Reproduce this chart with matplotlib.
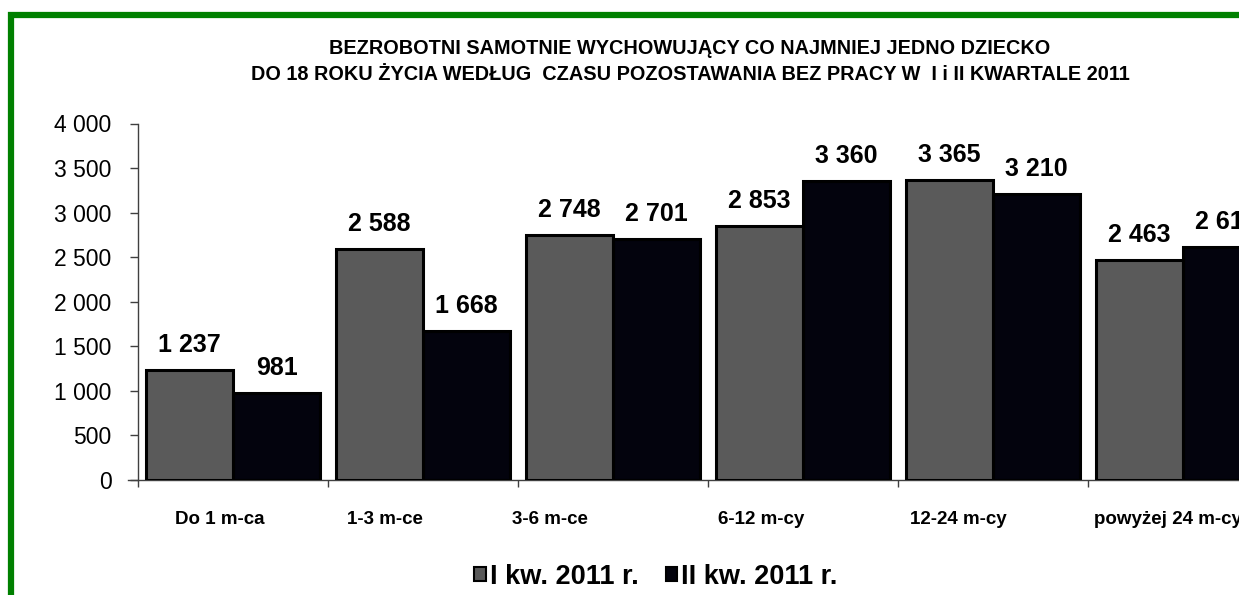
import matplotlib
matplotlib.use("Agg")
import matplotlib.pyplot as plt
from matplotlib.patches import Rectangle, Patch
import matplotlib.transforms as mtransforms
import numpy as np

categories = ["Do 1 m-ca", "1-3 m-ce", "3-6 m-ce", "6-12 m-cy", "12-24 m-cy", "powyżej 24 m-cy"]
q1_values = [1237, 2588, 2748, 2853, 3365, 2463]
q2_values = [981, 1668, 2701, 3360, 3210, 2613]
series_names = ["I kw. 2011 r.", "II kw. 2011 r."]
title_lines = ["BEZROBOTNI SAMOTNIE WYCHOWUJĄCY CO NAJMNIEJ JEDNO DZIECKO",
               "DO 18 ROKU ŻYCIA WEDŁUG  CZASU POZOSTAWANIA BEZ PRACY W  I i II KWARTALE 2011"]
yticks = [0, 500, 1000, 1500, 2000, 2500, 3000, 3500, 4000]

plt.rcParams['font.family'] = ['Liberation Sans', 'DejaVu Sans']

W, H = 1239, 595
fig = plt.figure(figsize=(W / 100, H / 100), dpi=100)

def fmt(v):
    return f"{v:,}".replace(",", " ")

# green border (cropped on right/bottom)
fig.patches.append(Rectangle((11 / W, -0.1), 2, (H - 15) / H + 0.1, transform=fig.transFigure,
                             fill=False, edgecolor="#008000", linewidth=4.5, zorder=0))

left, right_px = 138, 1278
bottom_px, top_px = 480, 123.5
ax = fig.add_axes([left / W, (H - bottom_px) / H, (right_px - left) / W, (bottom_px - top_px) / H])

x = np.arange(len(categories))
bw = 0.46
c1, c2 = "#5a5a5a", "#03030d"
ax.bar(x - bw / 2, q1_values, bw, color=c1, edgecolor="black", linewidth=2.2, zorder=3)
ax.bar(x + bw / 2, q2_values, bw, color=c2, edgecolor="black", linewidth=2.2, zorder=3)

for xi, v in zip(x, q1_values):
    ax.annotate(fmt(v), (xi - bw / 2, v), xytext=(0, 25), textcoords="offset pixels",
                ha="center", va="center", fontsize=18, fontweight="bold", clip_on=False)
for xi, v in zip(x, q2_values):
    ax.annotate(fmt(v), (xi + bw / 2, v), xytext=(0, 25), textcoords="offset pixels",
                ha="center", va="center", fontsize=18, fontweight="bold", clip_on=False)

ax.set_xlim(-0.5, len(categories) - 0.5)
ax.set_ylim(0, 4000)
ax.set_yticks(yticks)
ax.set_yticklabels([fmt(v) for v in yticks], fontsize=16.5)
ax.set_xticks(np.arange(len(categories) + 1) - 0.5, minor=False)
ax.set_xticklabels([])
ax.set_xticks(x, minor=True)
ax.set_xticklabels(categories, minor=True, fontsize=13.5, fontweight="bold")
ax.tick_params(axis="x", which="minor", length=0, pad=22)
ax.tick_params(axis="x", which="major", length=5, width=1, color="#404040", direction="out")
ax.tick_params(axis="y", length=6, width=1, color="#404040", direction="out", pad=13)

# small horizontal shifts of category labels (pixels) as in the reference
label_dx = [-13, -38, -63, -42, -35, -15]
for lbl, dx in zip(ax.get_xticklabels(minor=True), label_dx):
    lbl.set_transform(lbl.get_transform() + mtransforms.ScaledTranslation(dx / 100, 0, fig.dpi_scale_trans))

for s in ["top", "right"]:
    ax.spines[s].set_visible(False)
for s in ["left", "bottom"]:
    ax.spines[s].set_color("#404040")
    ax.spines[s].set_linewidth(1)
ax.spines["bottom"].set_bounds(-0.55, len(categories) - 0.5)

fig.text(690 / W, 1 - 49 / H, title_lines[0], ha="center", va="center", fontsize=14.3, fontweight="bold")
fig.text(690 / W, 1 - 75 / H, title_lines[1], ha="center", va="center", fontsize=14.3, fontweight="bold")

handles = [Patch(facecolor=c1, edgecolor="black", linewidth=1.5),
           Patch(facecolor=c2, edgecolor="black", linewidth=1.5)]
fig.legend(handles, series_names, loc="center", bbox_to_anchor=(656 / W, 1 - 577 / H), ncol=2,
           frameon=False, prop={"size": 19.5, "weight": "bold"}, handlelength=0.42, handleheight=0.42,
           handletextpad=0.15, columnspacing=1.0, borderpad=0, borderaxespad=0)

fig.savefig("out.png", dpi=100)
